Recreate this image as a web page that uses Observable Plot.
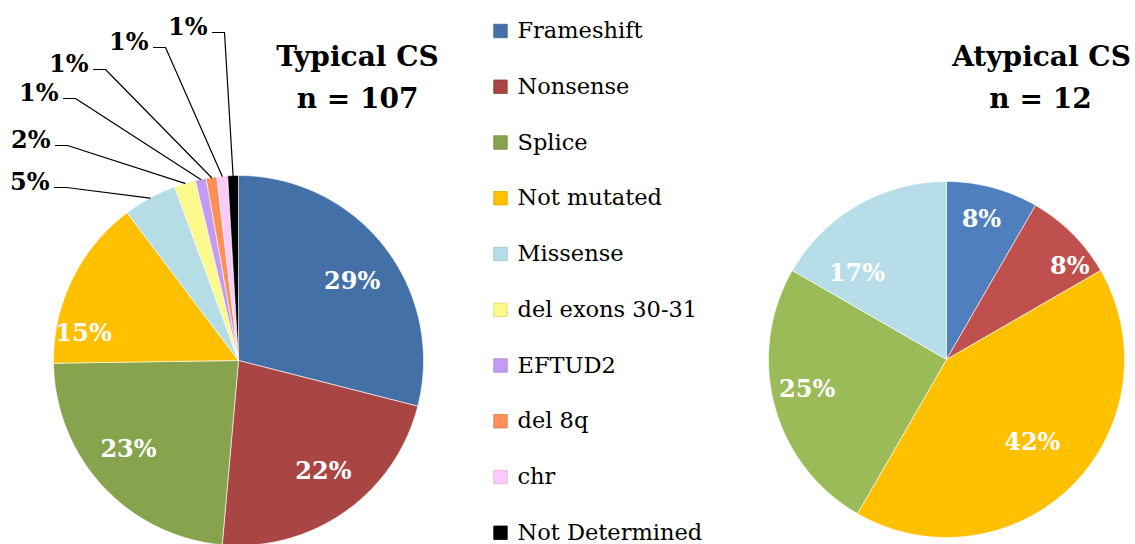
<!DOCTYPE html>
<html><head><meta charset="utf-8">
<script src="https://cdn.jsdelivr.net/npm/d3@7"></script>
<script src="https://cdn.jsdelivr.net/npm/@observablehq/plot@0.6"></script>
<style>body{margin:0;background:#fff}</style>
</head><body><div id="chart"></div>
<script>
// ---------- DATA ----------
const categories = ["Frameshift","Nonsense","Splice","Not mutated","Missense","del exons 30-31","EFTUD2","del 8q","chr","Not Determined"];
const typicalTitle = ["Typical CS", "n = 107"];
const typicalCats = ["Frameshift","Nonsense","Splice","Not mutated","Missense","del exons 30-31","EFTUD2","del 8q","chr","Not Determined"];
const typicalCounts = [31, 24, 25, 16, 5, 2, 1, 1, 1, 1];
const typicalLabels = ["29%","22%","23%","15%","5%","2%","1%","1%","1%","1%"];
const atypicalTitle = ["Atypical CS", "n = 12"];
const atypicalCats = ["Frameshift","Nonsense","Not mutated","Splice","Missense"];
const atypicalCounts = [1, 1, 5, 3, 2];
const atypicalLabels = ["8%","8%","42%","25%","17%"];

// ---------- STYLE ----------
const leftColors = {"Frameshift":"#4470a8","Nonsense":"#a94644","Splice":"#87a34d","Not mutated":"#ffc000","Missense":"#b5dde6",
  "del exons 30-31":"#fcf98c","EFTUD2":"#c49bf2","del 8q":"#fd9058","chr":"#fcc9fb","Not Determined":"#000000"};
const rightColors = {"Frameshift":"#4f80bd","Nonsense":"#c0504d","Splice":"#9bbb59","Not mutated":"#ffc000","Missense":"#b7dee8"};
const FONT = "DejaVu Serif";

// ---------- LAYOUT ----------
const W = 1135, H = 544;
const leftPie = {cx: 238, cy: 360, r: 185};
const rightPie = {cx: 946, cy: 359, r: 178};
// inside label polar placement (angle deg clockwise from north, radius fraction)
const leftInside = [[55, 0.75], [142.6, 0.756], [231, 0.765], [280, 0.85]];
const rightInside = [[14, 0.81], [52.8, 0.87], [134, 0.67], [258, 0.8], [314, 0.7]];
// outside labels for the small slices: [text right edge, baseline]
const leftOutside = [[49, 189], [50, 147], [58, 100], [88, 71], [148, 49], [207, 34]];
const legendX = 500, legendY0 = 30.5, legendStep = 55.75;

function polygons(cats, counts, colors, pie, prefix) {
  const arcs = d3.pie().sort(null).value(d => d).startAngle(0).endAngle(2 * Math.PI)(counts);
  const pts = [];
  arcs.forEach((a, i) => {
    const k = prefix + i, c = colors[cats[i]];
    pts.push({k, c, x: pie.cx, y: pie.cy});
    const n = Math.max(2, Math.ceil((a.endAngle - a.startAngle) / (Math.PI / 360)));
    for (let j = 0; j <= n; j++) {
      const t = a.startAngle + (a.endAngle - a.startAngle) * j / n;
      pts.push({k, c, x: pie.cx + pie.r * Math.sin(t), y: pie.cy - pie.r * Math.cos(t)});
    }
    pts.push({k, c, x: pie.cx, y: pie.cy});
  });
  return {arcs, pts};
}
const L = polygons(typicalCats, typicalCounts, leftColors, leftPie, "L");
const R = polygons(atypicalCats, atypicalCounts, rightColors, rightPie, "R");

const polar = (pie, deg, f) => ({x: pie.cx + f * pie.r * Math.sin(deg * Math.PI / 180), y: pie.cy - f * pie.r * Math.cos(deg * Math.PI / 180)});

const insideLabels = [];
leftInside.forEach(([deg, f], i) => insideLabels.push({...polar(leftPie, deg, f), t: typicalLabels[i]}));
rightInside.forEach(([deg, f], i) => insideLabels.push({...polar(rightPie, deg, f), t: atypicalLabels[i]}));

const outsideLabels = [], leaders = [];
leftOutside.forEach(([xr, yb], j) => {
  const i = 4 + j;
  const a = L.arcs[i], mid = (a.startAngle + a.endAngle) / 2;
  outsideLabels.push({x: xr, y: yb, t: typicalLabels[i]});
  const ly = yb - 2;
  leaders.push({k: "l" + i, x: xr + 5, y: ly});
  leaders.push({k: "l" + i, x: xr + 17, y: ly});
  leaders.push({k: "l" + i, x: leftPie.cx + leftPie.r * Math.sin(mid), y: leftPie.cy - leftPie.r * Math.cos(mid)});
});

const legend = categories.map((c, i) => ({c, col: leftColors[c], x: legendX, y: legendY0 + i * legendStep}));
const titles = [
  {t: typicalTitle[0], x: 357, y: 65}, {t: typicalTitle[1], x: 357, y: 107},
  {t: atypicalTitle[0], x: 1041, y: 65}, {t: atypicalTitle[1], x: 1040, y: 107}
];

const chart = Plot.plot({
  width: W, height: H, margin: 0,
  x: {domain: [0, W], range: [0, W], axis: null},
  y: {domain: [0, H], range: [0, H], axis: null},
  color: {type: "identity"},
  style: {background: "#fff", fontFamily: FONT},
  marks: [
    Plot.line(L.pts, {x: "x", y: "y", z: "k", fill: "c", stroke: "#fff", strokeWidth: 0.6, curve: "linear"}),
    Plot.line(R.pts, {x: "x", y: "y", z: "k", fill: "c", stroke: "#fff", strokeWidth: 0.6, curve: "linear"}),
    Plot.line(leaders, {x: "x", y: "y", z: "k", stroke: "#000", strokeWidth: 1.2}),
    Plot.text(insideLabels, {x: "x", y: "y", text: "t", fill: "#fff", fontSize: 24, fontWeight: "bold", fontFamily: FONT}),
    Plot.text(outsideLabels, {x: "x", y: "y", text: "t", fill: "#000", fontSize: 24, fontWeight: "bold", fontFamily: FONT, textAnchor: "end", lineAnchor: "bottom"}),
    Plot.text(titles, {x: "x", y: "y", text: "t", fill: "#000", fontSize: 28, fontWeight: "bold", fontFamily: FONT, lineAnchor: "bottom"}),
    Plot.dot(legend, {x: "x", y: "y", fill: "col", stroke: d => d3.color(d.col).darker(0.4).formatHex(), strokeWidth: 0.8, symbol: "square", r: 7.6}),
    Plot.text(legend, {x: d => d.x + 17, y: "y", text: "c", fill: "#000", fontSize: 22.5, fontFamily: FONT, textAnchor: "start"})
  ]
});
document.getElementById("chart").append(chart);
</script>
</body></html>
